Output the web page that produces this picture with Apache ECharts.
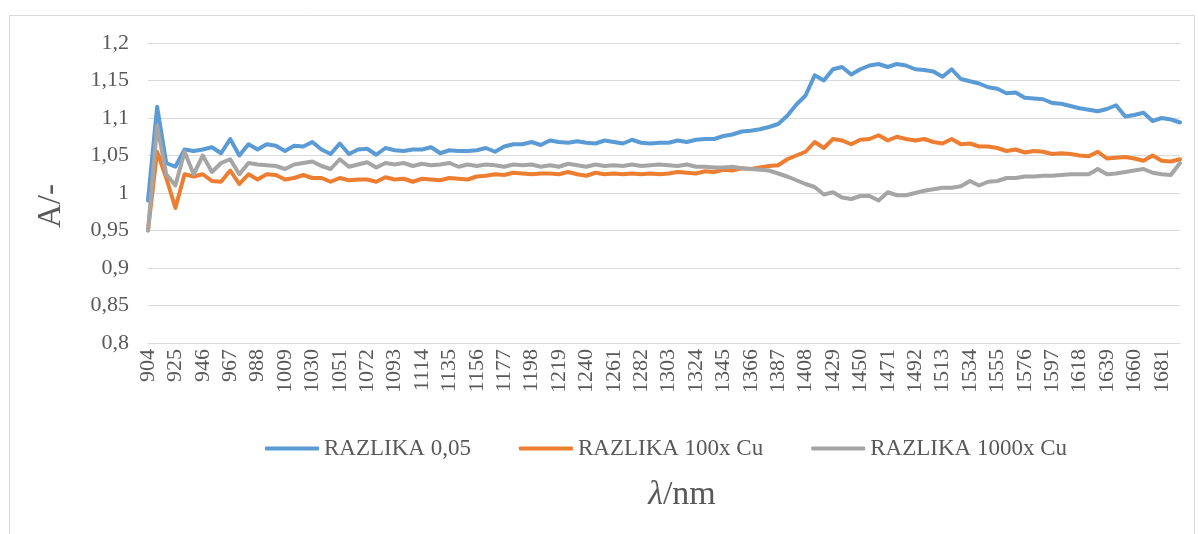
<!DOCTYPE html>
<html>
<head>
<meta charset="utf-8">
<script src="https://cdn.jsdelivr.net/npm/echarts@6/dist/echarts.min.js"></script>
<style>
  html, body { margin: 0; padding: 0; background: #fff; }
  #chart { width: 1198px; height: 534px; }
</style>
</head>
<body>
<div id="chart"></div>
<script>
// wavelengths (nm), step 7
const wavelengths = [];
for (let w = 904; w <= 1695; w += 7) wavelengths.push(String(w));

const seriesNames = ['RAZLIKA 0,05', 'RAZLIKA 100x Cu', 'RAZLIKA 1000x Cu'];

const razlika005 = [
  0.99, 1.115, 1.04, 1.035, 1.058, 1.056, 1.058, 1.061, 1.053, 1.072,
  1.05, 1.065, 1.058, 1.065, 1.063, 1.056, 1.063, 1.062, 1.068, 1.058,
  1.052, 1.066, 1.052, 1.058, 1.059, 1.051, 1.06, 1.057, 1.056, 1.058,
  1.058, 1.061, 1.053, 1.057, 1.056, 1.056, 1.057, 1.06, 1.055, 1.062,
  1.065, 1.065, 1.068, 1.064, 1.07, 1.068, 1.067, 1.069, 1.067, 1.066,
  1.07, 1.068, 1.066, 1.071, 1.067, 1.066, 1.067, 1.067, 1.07, 1.068,
  1.071, 1.072, 1.072, 1.076, 1.078, 1.082, 1.083, 1.085, 1.088, 1.092,
  1.103, 1.118, 1.13, 1.157, 1.15, 1.165, 1.168, 1.158, 1.165, 1.17,
  1.172, 1.168, 1.172, 1.17, 1.165, 1.164, 1.162, 1.155, 1.165, 1.152,
  1.149, 1.146, 1.141, 1.139, 1.133, 1.134, 1.127, 1.126, 1.125, 1.12,
  1.119, 1.116, 1.113, 1.111, 1.109, 1.112, 1.117, 1.102, 1.104, 1.107,
  1.096, 1.1, 1.098, 1.094
];

const razlika100x = [
  0.95, 1.055, 1.02, 0.98, 1.025, 1.022, 1.025, 1.016, 1.015, 1.03,
  1.012, 1.025, 1.018, 1.025, 1.024, 1.018, 1.02, 1.024, 1.02, 1.02,
  1.015, 1.02, 1.017, 1.018, 1.018, 1.015, 1.021, 1.018, 1.019, 1.015,
  1.019, 1.018, 1.017, 1.02, 1.019, 1.018, 1.022, 1.023, 1.025, 1.024,
  1.027, 1.026, 1.025, 1.026, 1.026, 1.025, 1.028, 1.025, 1.023, 1.027,
  1.025, 1.026, 1.025, 1.026, 1.025, 1.026, 1.025, 1.026, 1.028, 1.027,
  1.026, 1.029, 1.028, 1.031, 1.03, 1.033, 1.032, 1.034, 1.036, 1.037,
  1.045, 1.05, 1.055, 1.068, 1.06, 1.072, 1.07, 1.065, 1.071, 1.072,
  1.077, 1.07, 1.075, 1.072, 1.07, 1.072, 1.068, 1.066, 1.072, 1.065,
  1.066, 1.062, 1.062, 1.06, 1.056, 1.058, 1.054, 1.056, 1.055, 1.052,
  1.053, 1.052, 1.05, 1.049, 1.055, 1.046, 1.047, 1.048, 1.046, 1.043,
  1.05, 1.043, 1.042, 1.045
];

const razlika1000x = [
  0.95, 1.09, 1.025, 1.01, 1.055, 1.025, 1.05, 1.028, 1.04, 1.045,
  1.025, 1.04, 1.038, 1.037, 1.036, 1.032, 1.038, 1.04, 1.042, 1.036,
  1.032, 1.045, 1.035, 1.038, 1.041, 1.034, 1.04, 1.038, 1.04, 1.036,
  1.039, 1.037, 1.038, 1.04, 1.035, 1.038, 1.036, 1.038, 1.037, 1.035,
  1.038, 1.037, 1.038, 1.035, 1.037, 1.035, 1.039, 1.037, 1.035, 1.038,
  1.036, 1.037, 1.036, 1.038, 1.036, 1.037, 1.038, 1.037, 1.036, 1.038,
  1.035, 1.035, 1.034, 1.034, 1.035, 1.033, 1.032, 1.031, 1.03, 1.026,
  1.022, 1.017, 1.012, 1.008, 0.998, 1.001, 0.994, 0.992, 0.996, 0.996,
  0.99, 1.001, 0.997, 0.997, 1.0, 1.003, 1.005, 1.007, 1.007, 1.009,
  1.016, 1.01, 1.015, 1.016, 1.02, 1.02, 1.022, 1.022, 1.023, 1.023,
  1.024, 1.025, 1.025, 1.025, 1.032, 1.025, 1.026, 1.028, 1.03, 1.032,
  1.027, 1.025, 1.024, 1.04
];

const colors = ['#5B9BD5', '#ED7D31', '#A5A5A5'];
const FONT = "'Liberation Serif', 'Times New Roman', serif";

const myChart = echarts.init(document.getElementById('chart'));

const mkSeries = (name, data, color) => ({
  name: name,
  type: 'line',
  data: data,
  symbol: 'none',
  smooth: false,
  lineStyle: { width: 4, color: color, cap: 'round', join: 'round' },
  itemStyle: { color: color }
});

const option = {
  animation: false,
  backgroundColor: '#fff',
  textStyle: { fontFamily: FONT },
  graphic: [
    {
      type: 'rect',
      left: 7, top: 13,
      shape: { width: 1185, height: 540 },
      style: { fill: 'none', stroke: '#D9D9D9', lineWidth: 1 },
      silent: true
    },
    {
      // y axis title
      type: 'text',
      x: 51, y: 206,
      rotation: Math.PI / 2,
      style: {
        text: 'A/-',
        fill: '#595959',
        font: "33px 'Liberation Serif', 'Times New Roman', serif",
        textAlign: 'center',
        textVerticalAlign: 'middle'
      },
      silent: true
    }
  ],
  grid: { left: 148, right: 18, top: 43, bottom: 191 },
  legend: {
    left: 260, top: 432,
    itemWidth: 54, itemHeight: 4, itemGap: 48,
    icon: 'roundRect',
    textStyle: { color: '#595959', fontSize: 23, fontFamily: FONT },
    data: seriesNames
  },
  xAxis: {
    type: 'category',
    data: wavelengths,
    boundaryGap: false,
    axisLine: { lineStyle: { color: '#D9D9D9' } },
    axisTick: { show: false },
    axisLabel: {
      rotate: 90,
      margin: 6,
      color: '#595959',
      fontSize: 22,
      fontFamily: FONT,
      interval: (idx) => idx % 3 === 0
    },
    name: '{i|λ}/nm',
    nameLocation: 'middle',
    nameGap: 135,
    nameTextStyle: {
      color: '#595959', fontSize: 34, fontFamily: FONT,
      padding: [0, 0, 0, 36],
      rich: { i: { fontStyle: 'italic', fontSize: 34, fontFamily: FONT, color: '#595959' } }
    }
  },
  yAxis: {
    type: 'value',
    min: 0.8, max: 1.2, interval: 0.05,
    axisLine: { show: false },
    axisTick: { show: false },
    splitLine: { lineStyle: { color: '#D9D9D9', width: 1 } },
    axisLabel: {
      color: '#595959',
      fontSize: 22,
      fontFamily: FONT,
      margin: 19,
      formatter: (v) => String(Math.round(v * 100) / 100).replace('.', ',')
    }
  },
  series: [
    mkSeries(seriesNames[0], razlika005, colors[0]),
    mkSeries(seriesNames[1], razlika100x, colors[1]),
    mkSeries(seriesNames[2], razlika1000x, colors[2])
  ]
};

myChart.setOption(option);
window.addEventListener('resize', () => myChart.resize());
</script>
</body>
</html>
